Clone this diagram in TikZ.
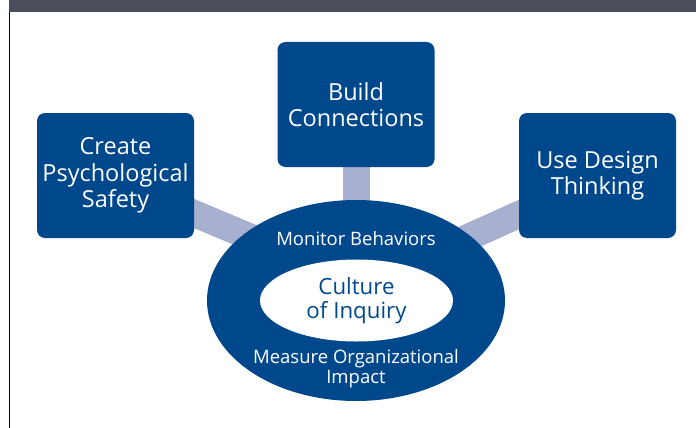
\documentclass[tikz,border=0pt]{standalone}
\usepackage{fontspec}
\setmainfont{Open Sans}
\usepackage{tikz}
\usetikzlibrary{shapes,backgrounds}
\definecolor{inqblue}{RGB}{0,72,140}
\definecolor{linkblue}{RGB}{168,176,208}
\definecolor{bargray}{RGB}{75,79,91}

\begin{document}
\begin{tikzpicture}[x=1pt,y=-1pt,
    pillar/.style={fill=inqblue,rounded corners=8pt,minimum width=157pt,minimum height=125pt,
      inner sep=0pt,align=center,text=white,font=\fontsize{23.5}{26.5}\selectfont},
    ring/.style={ellipse,inner sep=0pt},
    ringlabel/.style={text=white,align=center,font=\fontsize{18.5}{20}\selectfont},
    link/.style={line width=27pt,draw=linkblue}]
  \useasboundingbox (0,0) rectangle (696,428);
  % header strip and left rule
  \fill[bargray] (9,0) rectangle (696,12);
  \draw[line width=1pt] (9.5,12) -- (9.5,428);

  % the three pillars
  \node[pillar] (safety) at (115.5,175.5) {Create\\Psychological\\Safety};
  \node[pillar] (connect) at (356,104.5) {Build\\Connections};
  \node[pillar] (design) at (597.5,175.5) {Use Design\\Thinking};

  % hub
  \node[ring,fill=inqblue,minimum width=298pt,minimum height=201pt] (culture) at (356,300.5) {};
  \node[ring,fill=white,minimum width=193pt,minimum height=82pt,text=inqblue,align=center,
    font=\fontsize{22.3}{24}\selectfont] (inquiry) at (356.5,300.5) {Culture\\of Inquiry};
  \node[ringlabel] (monitor) at (356,238.5) {Monitor Behaviors};
  \node[ringlabel] (measure) at (356,369) {Measure Organizational\\Impact};

  % links behind everything
  \coordinate (hubL) at (300,258);
  \coordinate (hubR) at (420,259);
  \begin{scope}[on background layer]
    \draw[link] (connect.center) -- (culture.center);
    \draw[link] ([yshift=-5pt]safety.center) -- (hubL);
    \draw[link] ([yshift=-3.7pt]design.center) -- (hubR);
  \end{scope}
\end{tikzpicture}
\end{document}
